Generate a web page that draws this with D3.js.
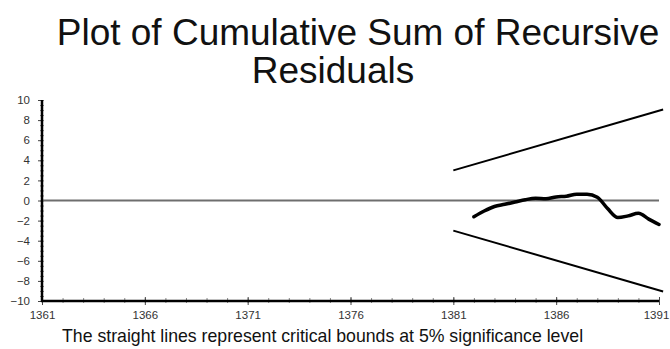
<!DOCTYPE html>
<html>
<head>
<meta charset="utf-8">
<script src="https://cdn.jsdelivr.net/npm/d3@7"></script>
<style>
  html, body { margin: 0; padding: 0; background: #fff; }
  svg { display: block; font-family: "Liberation Sans", Arial, sans-serif; }
</style>
</head>
<body>
<svg id="chart" width="670" height="349"></svg>
<script>
// CUSUM of recursive residuals (half-year readings)
const cusumYears  = [1382, 1382.5, 1383, 1383.5, 1384, 1384.5, 1385, 1385.5, 1386, 1386.5,
                     1387, 1387.5, 1388, 1388.5, 1389, 1389.5, 1390, 1390.5, 1391];
const cusumValues = [-1.62, -1.05, -0.6, -0.38, -0.15, 0.08, 0.22, 0.17, 0.35, 0.43,
                     0.63, 0.63, 0.33, -0.8, -1.7, -1.53, -1.28, -1.85, -2.39];

// 5% critical bounds
const boundYears  = [1381, 1391.2];
const upperBound  = [3, 9.05];
const lowerBound  = [-3, -9.05];

// Axis ticks
const xTickLabels = [1361, 1366, 1371, 1376, 1381, 1386, 1391];
const yTickLabels = [10, 8, 6, 4, 2, 0, -2, -4, -6, -8, -10];

const titleLines = ["Plot of Cumulative Sum of Recursive", "Residuals"];
const footnote = "The straight lines represent critical bounds at 5% significance level";

const svg = d3.select("#chart");

const x = d3.scaleLinear().domain([1361, 1391]).range([42, 659]);
const y = d3.scaleLinear().domain([-10, 10]).range([301, 100]);

// Title
svg.append("text").attr("x", 358).attr("y", 45)
  .attr("text-anchor", "middle").attr("font-size", 37).attr("fill", "#111")
  .text(titleLines[0]);
svg.append("text").attr("x", 333).attr("y", 83)
  .attr("text-anchor", "middle").attr("font-size", 37).attr("fill", "#111")
  .text(titleLines[1]);

// Zero reference line
svg.append("line")
  .attr("x1", x(1361)).attr("x2", x(1391))
  .attr("y1", y(0)).attr("y2", y(0))
  .attr("stroke", "#6e6e6e").attr("stroke-width", 2);

// Minor ticks
const yMinor = d3.range(-10, 10.01, 0.5);
const xMinor = d3.range(1361, 1391.01, 1);

const yAxisMinor = d3.axisLeft(y).tickValues(yMinor).tickSize(2).tickFormat("");
svg.append("g").attr("transform", `translate(${x(1361)},0)`).call(yAxisMinor)
  .call(g => g.select(".domain").remove())
  .call(g => g.selectAll(".tick line").attr("stroke", "#888").attr("x2", 2).attr("x1", -2));

const xAxisMinor = d3.axisBottom(x).tickValues(xMinor).tickSize(3).tickFormat("");
svg.append("g").attr("transform", `translate(0,${y(-10)})`).call(xAxisMinor)
  .call(g => g.select(".domain").remove())
  .call(g => g.selectAll(".tick line").attr("stroke", "#888").attr("y1", -3).attr("y2", 2));

// Major axes
const yAxis = d3.axisLeft(y).tickValues(yTickLabels).tickSize(4).tickPadding(8)
  .tickFormat(d3.format("d"));
svg.append("g").attr("transform", `translate(${x(1361)},0)`).call(yAxis)
  .call(g => g.select(".domain").remove())
  .call(g => g.selectAll(".tick line").attr("stroke", "#444"))
  .call(g => g.selectAll(".tick text").attr("font-size", 11.5).attr("fill", "#333")
    .attr("font-family", "Liberation Sans, Arial, sans-serif"));

const xAxis = d3.axisBottom(x).tickValues(xTickLabels).tickSize(4).tickPadding(6)
  .tickFormat(d3.format("d"));
svg.append("g").attr("transform", `translate(0,${y(-10)})`).call(xAxis)
  .call(g => g.select(".domain").remove())
  .call(g => g.selectAll(".tick line").attr("stroke", "#444").attr("y1", -4))
  .call(g => g.selectAll(".tick text").attr("font-size", 11.5).attr("fill", "#333")
    .attr("font-family", "Liberation Sans, Arial, sans-serif")
    .attr("dx", d => d === 1391 ? -3 : 0));

// Axis lines
svg.append("line").attr("x1", x(1361)).attr("x2", x(1361))
  .attr("y1", y(10)).attr("y2", y(-10) + 1)
  .attr("stroke", "#000").attr("stroke-width", 2.5);
svg.append("line").attr("x1", x(1361) - 1).attr("x2", x(1391))
  .attr("y1", y(-10)).attr("y2", y(-10))
  .attr("stroke", "#000").attr("stroke-width", 2.5);

// Critical bounds
const boundLine = d3.line().x(d => x(d[0])).y(d => y(d[1]));
[upperBound, lowerBound].forEach(vals => {
  svg.append("path")
    .datum(boundYears.map((yr, i) => [yr, vals[i]]))
    .attr("d", boundLine)
    .attr("fill", "none").attr("stroke", "#000").attr("stroke-width", 2);
});

// CUSUM line
const cusumLine = d3.line().curve(d3.curveMonotoneX).x(d => x(d[0])).y(d => y(d[1]));
svg.append("path")
  .datum(cusumYears.map((yr, i) => [yr, cusumValues[i]]))
  .attr("d", cusumLine)
  .attr("fill", "none").attr("stroke", "#000").attr("stroke-width", 3.5)
  .attr("stroke-linejoin", "round").attr("stroke-linecap", "round");

// Footnote
svg.append("text").attr("x", 62).attr("y", 342)
  .attr("font-size", 17.7).attr("fill", "#111")
  .text(footnote);
</script>
</body>
</html>
